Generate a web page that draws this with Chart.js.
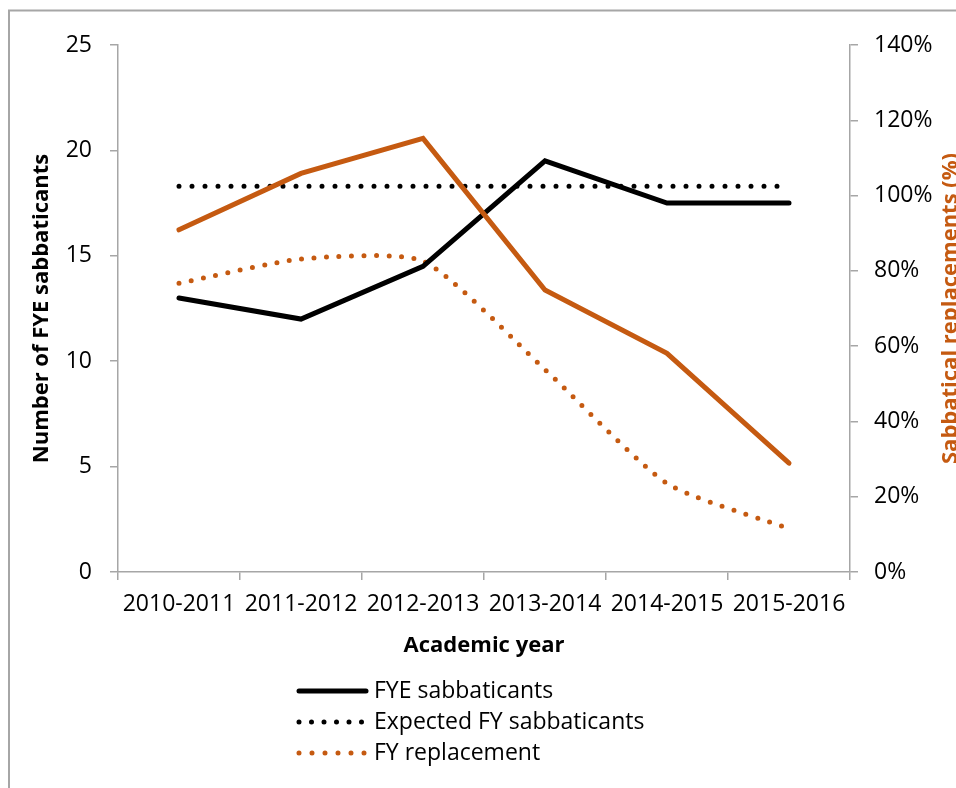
<!DOCTYPE html>
<html>
<head>
<meta charset="utf-8">
<script src="https://cdn.jsdelivr.net/npm/chart.js@4.4.1/dist/chart.umd.min.js"></script>
<style>
  html, body { margin: 0; padding: 0; background: #fff; }
  #wrap { width: 956px; height: 788px; }
</style>
</head>
<body>
<div id="wrap"><canvas id="grafico" width="956" height="788"></canvas></div>
<script>
"use strict";

// dati
const anni = ["2010-2011", "2011-2012", "2012-2013", "2013-2014", "2014-2015", "2015-2016"];
const fyeSabbaticants = [13, 12, 14.5, 19.5, 17.5, 17.5];
const expectedFy = [18.3, 18.3, 18.3, 18.3, 18.3, 18.3];
const fyReplacement = [13.7, 14.85, 14.75, 9.6, 4.2, 2.05];
const replacementPct = [90.9, 105.9, 115.2, 74.9, 58.1, 28.9];

const leftTicks = [0, 5, 10, 15, 20, 25];
const rightTicks = [0, 20, 40, 60, 80, 100, 120, 140];

const ARANCIO = "#C55A11";
const GRIGIO = "#A6A6A6";
const FONT = "'Open Sans', sans-serif";

// area del grafico (come nell'originale)
const AREA = { left: 118, right: 850, top: 45, bottom: 572 };

// bordo, titoli degli assi e legenda disegnati a mano
const extra = {
    id: "extra",
    beforeDraw(chart) {
        const ctx = chart.ctx;
        ctx.save();
        ctx.strokeStyle = GRIGIO;
        ctx.lineWidth = 2;
        ctx.beginPath();
        ctx.moveTo(9, 800);
        ctx.lineTo(9, 10.5);
        ctx.lineTo(960, 10.5);
        ctx.stroke();
        ctx.restore();
    },
    afterDraw(chart) {
        const ctx = chart.ctx;
        const ca = chart.chartArea;
        const cy = (ca.top + ca.bottom) / 2;
        ctx.save();

        // titolo asse sinistro
        ctx.font = "bold 22px " + FONT;
        ctx.fillStyle = "#000";
        ctx.textAlign = "center";
        ctx.textBaseline = "middle";
        ctx.save();
        ctx.translate(42, cy);
        ctx.rotate(-Math.PI / 2);
        ctx.fillText("Number of FYE sabbaticants", 0, 0);
        ctx.restore();

        // titolo asse destro (tagliato dal bordo)
        ctx.save();
        ctx.fillStyle = ARANCIO;
        ctx.translate(951, cy);
        ctx.rotate(-Math.PI / 2);
        ctx.fillText("Sabbatical replacements (%)", 0, 0);
        ctx.restore();

        // titolo asse x
        ctx.fillText("Academic year", (ca.left + ca.right) / 2, 646);

        // legenda
        const voci = [
            { testo: "FYE sabbaticants", colore: "#000", dash: [] },
            { testo: "Expected FY sabbaticants", colore: "#000", dash: [0, 12.5] },
            { testo: "FY replacement", colore: ARANCIO, dash: [0, 13] }
        ];
        ctx.font = "23px " + FONT;
        ctx.textAlign = "left";
        for (let i = 0; i < voci.length; i++) {
            let v = voci[i];
            let y = 691 + i * 31;
            ctx.strokeStyle = v.colore;
            ctx.lineWidth = 5;
            ctx.lineCap = "round";
            ctx.setLineDash(v.dash);
            ctx.beginPath();
            ctx.moveTo(299, y);
            ctx.lineTo(366, y);
            ctx.stroke();
            ctx.setLineDash([]);
            ctx.fillStyle = "#000";
            ctx.fillText(v.testo, 374, y);
        }
        ctx.restore();
    }
};

const ctx = document.getElementById("grafico");
new Chart(ctx, {
    type: "line",
    data: {
        labels: anni,
        datasets: [
            {
                label: "Expected FY sabbaticants",
                data: expectedFy,
                yAxisID: "y",
                borderColor: "#000",
                borderWidth: 5,
                borderDash: [0, 13],
                borderCapStyle: "round",
                pointRadius: 0,
                order: 4
            },
            {
                label: "FY replacement",
                data: fyReplacement,
                yAxisID: "y",
                borderColor: ARANCIO,
                borderWidth: 5,
                borderDash: [0, 12.5],
                borderCapStyle: "round",
                tension: 0.2,
                pointRadius: 0,
                order: 3
            },
            {
                label: "FYE sabbaticants",
                data: fyeSabbaticants,
                yAxisID: "y",
                borderColor: "#000",
                borderWidth: 5,
                borderCapStyle: "round",
                borderJoinStyle: "miter",
                pointRadius: 0,
                order: 2
            },
            {
                label: "Sabbatical replacements (%)",
                data: replacementPct,
                yAxisID: "y1",
                borderColor: ARANCIO,
                borderWidth: 5,
                borderCapStyle: "round",
                borderJoinStyle: "miter",
                pointRadius: 0,
                order: 1
            }
        ]
    },
    options: {
        responsive: false,
        animation: false,
        layout: { padding: { top: AREA.top, left: 0, right: 0, bottom: 0 } },
        plugins: {
            legend: { display: false },
            tooltip: { enabled: false }
        },
        scales: {
            x: {
                offset: true,
                grid: { display: true, drawOnChartArea: false, offset: true, tickLength: 8, color: GRIGIO, lineWidth: 1.5 },
                border: { color: GRIGIO, width: 1.5 },
                ticks: { color: "#000", font: { family: FONT, size: 23 }, padding: 11, maxRotation: 0, autoSkip: false },
                afterFit(scale) { scale.height = 788 - AREA.bottom; }
            },
            y: {
                position: "left",
                min: 0,
                max: 25,
                afterBuildTicks(scale) { scale.ticks = leftTicks.map(v => ({ value: v })); },
                grid: { display: true, drawOnChartArea: false, tickLength: 8, color: GRIGIO, lineWidth: 1.5 },
                border: { color: GRIGIO, width: 1.5 },
                ticks: { color: "#000", font: { family: FONT, size: 23 }, padding: 18 },
                afterFit(scale) { scale.width = AREA.left; }
            },
            y1: {
                position: "right",
                min: 0,
                max: 140,
                afterBuildTicks(scale) { scale.ticks = rightTicks.map(v => ({ value: v })); },
                grid: { display: true, drawOnChartArea: false, tickLength: 8, color: GRIGIO, lineWidth: 1.5 },
                border: { color: GRIGIO, width: 1.5 },
                ticks: {
                    color: "#000", font: { family: FONT, size: 23 }, padding: 16,
                    callback: v => v + "%"
                },
                afterFit(scale) { scale.width = 956 - AREA.right; }
            }
        }
    },
    plugins: [extra]
});
</script>
</body>
</html>
